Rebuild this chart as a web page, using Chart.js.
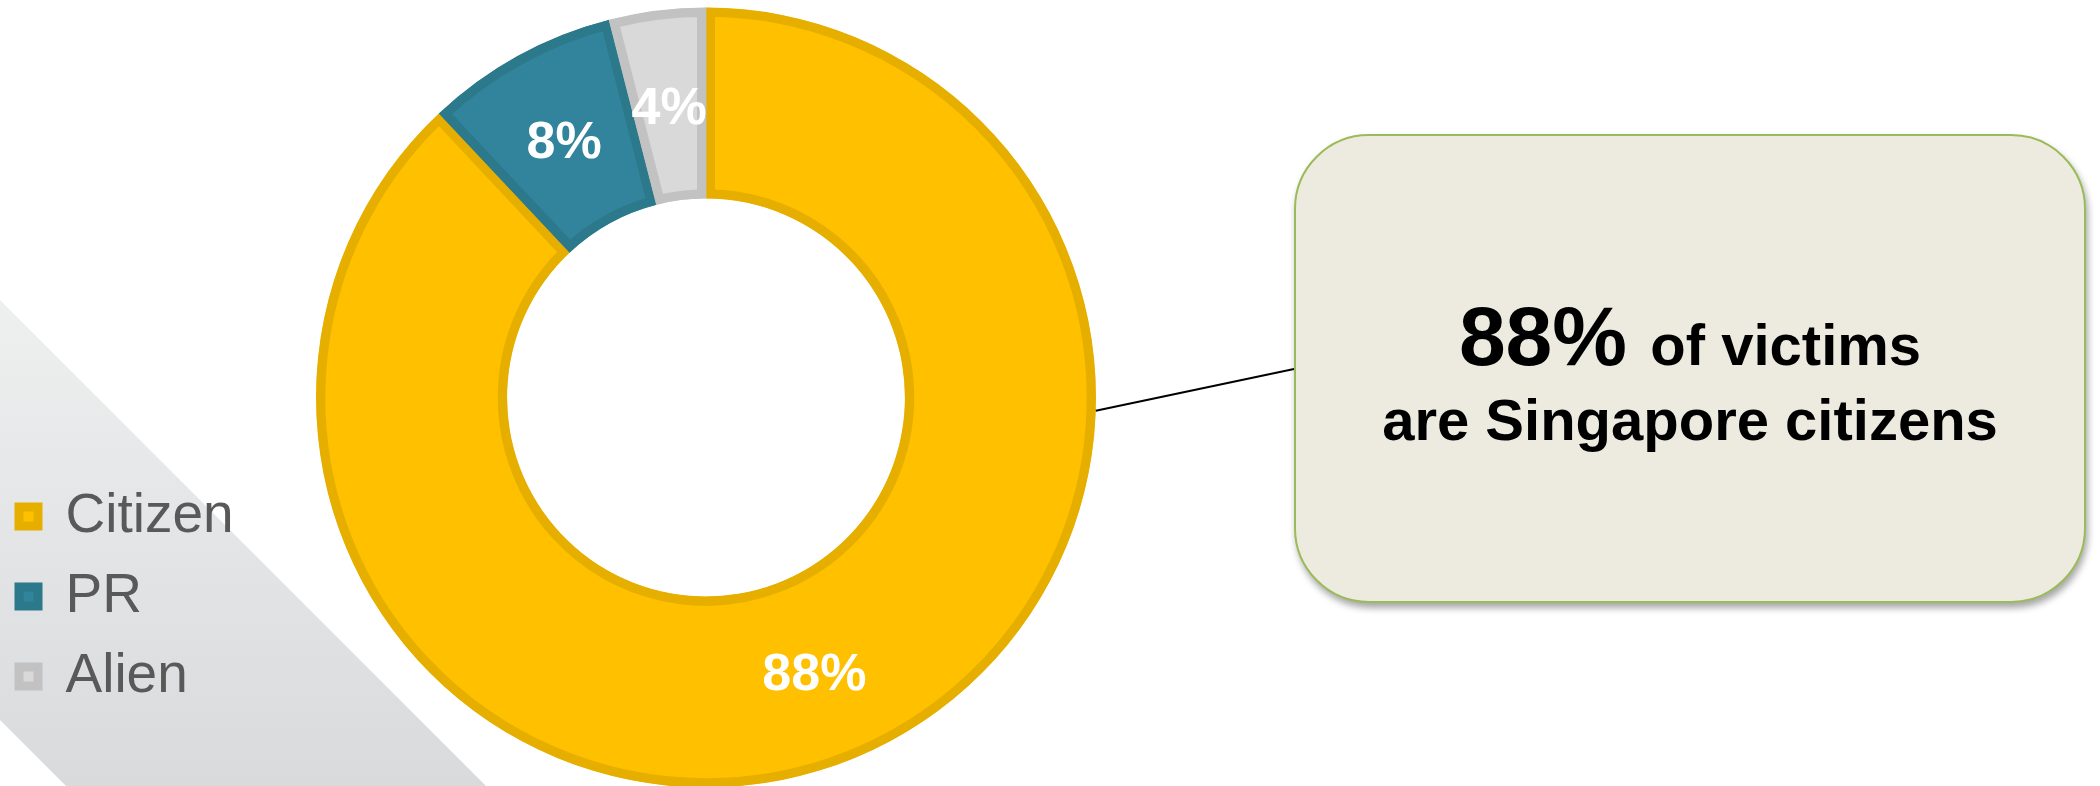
<!DOCTYPE html>
<html>
<head>
<meta charset="utf-8">
<title>Victims by residency status</title>
<script src="https://cdn.jsdelivr.net/npm/chart.js@4/dist/chart.umd.min.js"></script>
<style>
  body { margin: 0; background: #fff; }
  #wrap { position: relative; width: 2100px; height: 786px; overflow: hidden; }
  #residencyChart { position: absolute; left: 0; top: 0; }
  .callout {
    position: absolute; left: 1294px; top: 134px;
    width: 792px; height: 469px; box-sizing: border-box;
    border: 2px solid #9bbb59; border-radius: 75px;
    background: #edebe0;
    box-shadow: 2px 5px 7px rgba(0, 0, 0, 0.35);
    font-family: 'Liberation Sans', Arial, sans-serif;
    font-weight: bold; color: #000;
  }
  .callout div { position: absolute; left: 0; width: 100%; text-align: center; white-space: nowrap; line-height: 1; font-size: 58px; }
  .callout .line1 { top: 158px; }
  .callout .line1 span { font-size: 84px; }
  .callout .line2 { top: 255px; }
</style>
</head>
<body>
<div id="wrap">
  <canvas id="residencyChart" width="2100" height="786"></canvas>
  <div class="callout">
    <div class="line1"><span>88% </span>of victims</div>
    <div class="line2">are Singapore citizens</div>
  </div>
</div>
<script>
var categories = ['Citizen', 'PR', 'Alien'];
var shares = [88, 8, 4];

var fillColors = ['#FFC000', '#31849B', '#D9D9D9'];
var edgeColors = ['#E6AF00', '#2B798A', '#C2C2C2'];

var fontFamily = "'Liberation Sans', Arial, sans-serif";

// grey diagonal band in the lower left corner
var backdrop = {
	id: 'backdrop',
	beforeDraw: function (chart) {
		var c = chart.ctx;
		var h = chart.height;
		var g = c.createLinearGradient(0, 300, 0, h);
		g.addColorStop(0, '#eeefef');
		g.addColorStop(1, '#d9dadc');
		c.save();
		c.beginPath();
		c.moveTo(0, 300);
		c.lineTo(h - 300, h);
		c.lineTo(66, h);
		c.lineTo(0, 720);
		c.closePath();
		c.fillStyle = g;
		c.fill();
		c.restore();
	},
};

// percentage printed in the middle of each slice
var sliceLabels = {
	id: 'sliceLabels',
	afterDatasetsDraw: function (chart) {
		var c = chart.ctx;
		var arcs = chart.getDatasetMeta(0).data;
		c.save();
		c.font = 'bold 52px ' + fontFamily;
		c.fillStyle = '#fff';
		c.textAlign = 'center';
		c.textBaseline = 'alphabetic';
		arcs.forEach(function (arc, i) {
			var p = arc.getCenterPoint();
			c.fillText(shares[i] + '%', p.x, p.y + 19);
		});
		c.restore();
	},
};

// thin leader from the citizen slice to the callout
var leader = {
	id: 'leader',
	afterDraw: function (chart) {
		var c = chart.ctx;
		var arc = chart.getDatasetMeta(0).data[0];
		var a = 0.034;
		c.save();
		c.beginPath();
		c.moveTo(arc.x + Math.cos(a) * arc.outerRadius, arc.y + Math.sin(a) * arc.outerRadius);
		c.lineTo(1294, 369);
		c.lineWidth = 2;
		c.strokeStyle = '#000';
		c.stroke();
		c.restore();
	},
};

var ctx = document.getElementById('residencyChart');
var residencyChart = new Chart(ctx, {
	type: 'doughnut',
	data: {
		labels: categories,
		datasets: [
			{
				data: shares,
				backgroundColor: fillColors,
				borderColor: edgeColors,
				borderWidth: 9,
				borderAlign: 'inner',
				borderJoinStyle: 'miter',
				clip: false,
			},
		],
	},
	options: {
		responsive: false,
		animation: false,
		events: [],
		radius: 390,
		cutout: '51%',
		layout: {
			// legend pulled a little to the left edge
			padding: { left: -6, right: 922, top: 66, bottom: 57 },
		},
		plugins: {
			legend: {
				position: 'left',
				align: 'end',
				maxWidth: 240,
				labels: {
					boxWidth: 19,
					boxHeight: 19,
					padding: 25,
					color: '#595959',
					font: { size: 55, family: fontFamily },
				},
			},
			tooltip: { enabled: false },
		},
	},
	plugins: [backdrop, sliceLabels, leader],
});
</script>
</body>
</html>
